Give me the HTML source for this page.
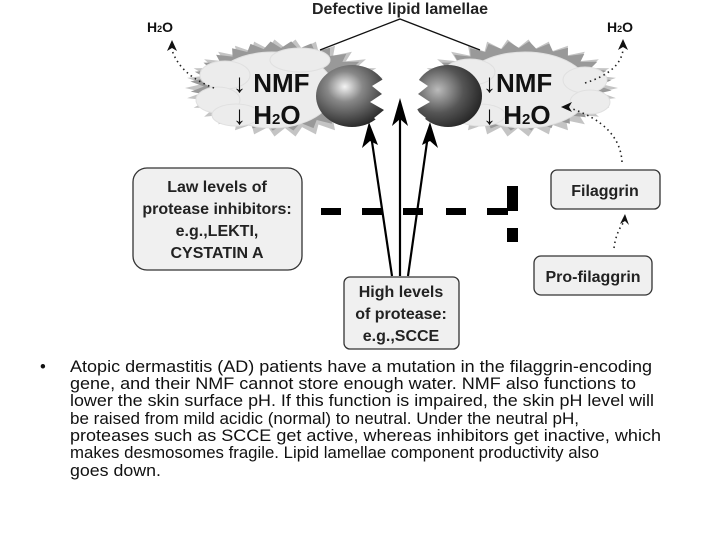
<!DOCTYPE html>
<html><head><meta charset="utf-8"><style>
body{margin:0;background:#fff;width:720px;height:540px;overflow:hidden;font-family:"Liberation Sans",Arial,sans-serif}
svg{position:absolute;left:0;top:0}
</style></head><body>
<svg id="s" width="720" height="540" viewBox="0 0 720 540" xmlns="http://www.w3.org/2000/svg">
<defs>
<radialGradient id="g1" cx="0.4" cy="0.35" r="0.7"><stop offset="0" stop-color="#f4f4f4"/><stop offset="0.35" stop-color="#888"/><stop offset="1" stop-color="#222"/></radialGradient>
<radialGradient id="g2" cx="0.35" cy="0.4" r="0.75"><stop offset="0" stop-color="#bbb"/><stop offset="0.5" stop-color="#555"/><stop offset="1" stop-color="#1a1a1a"/></radialGradient>
</defs>
<g id="spikes"></g>
<g fill="#ececec" stroke="#e0e0e0">
<ellipse cx="272" cy="90" rx="62" ry="38"/>
<ellipse cx="225" cy="75" rx="25" ry="14"/>
<ellipse cx="218" cy="100" rx="22" ry="13"/>
<ellipse cx="236" cy="115" rx="24" ry="11"/>
<ellipse cx="300" cy="60" rx="30" ry="12"/>
<ellipse cx="525" cy="90" rx="65" ry="38"/>
<ellipse cx="585" cy="80" rx="22" ry="13"/>
<ellipse cx="590" cy="102" rx="20" ry="12"/>
<ellipse cx="470" cy="72" rx="25" ry="13"/>
<ellipse cx="480" cy="115" rx="25" ry="11"/>
</g>
<ellipse cx="352" cy="96" rx="36" ry="31" fill="url(#g1)"/>
<polygon points="388,62 376,70 385,78 372,86 382,94 370,102 384,110 374,118 386,128 395,128 395,62" fill="#fff"/>
<ellipse cx="448" cy="96" rx="34" ry="31" fill="url(#g2)"/>
<polygon points="412,62 424,70 416,78 428,86 418,94 430,102 416,110 426,118 414,128 405,128 405,62" fill="#fff"/>
<text x="400" y="14" font-size="16" font-weight="bold" text-anchor="middle" fill="#222">Defective lipid lamellae</text>
<polyline points="320,50 400,19 480,50" fill="none" stroke="#111" stroke-width="1.3"/>
<g font-weight="bold" fill="#111">
<text x="233" y="92" font-size="26">↓ NMF</text>
<text x="233" y="124" font-size="26">↓ H<tspan font-size="15">2</tspan>O</text>
<text x="483" y="92" font-size="26">↓NMF</text>
<text x="483" y="124" font-size="26">↓ H<tspan font-size="15">2</tspan>O</text>
<text x="147" y="32" font-size="14">H<tspan font-size="9">2</tspan>O</text>
<text x="607" y="32" font-size="14">H<tspan font-size="9">2</tspan>O</text>
</g>
<g fill="none" stroke="#222" stroke-width="1.6" stroke-dasharray="1.5,3.5">
<path d="M214,88 Q180,75 172,50"/>
<path d="M585,83 Q620,72 623,50"/>
<path d="M622,162 Q620,125 570,108"/>
<path d="M614,248 Q616,232 624,222"/>
</g>
<g fill="#111">
<polygon points="172,40 167,51 172,48 177,51"/>
<polygon points="623,39 618,50 623,47 628,50"/>
<polygon points="561,107 572,102 569,107 572,112"/>
<polygon points="625,214 620,224 625,221 629,225"/>
</g>
<g fill="#000">
<rect x="321" y="208" width="20" height="7"/>
<rect x="362" y="208" width="20" height="7"/>
<rect x="403" y="208" width="20" height="7"/>
<rect x="446" y="208" width="20" height="7"/>
<rect x="487" y="208" width="21" height="7"/>
<rect x="507" y="186" width="11" height="25"/>
<rect x="507" y="228" width="11" height="14"/>
</g>
<g stroke="#000" stroke-width="2.2">
<line x1="392" y1="276" x2="371" y2="135"/>
<line x1="400" y1="276" x2="400" y2="115"/>
<line x1="408" y1="276" x2="428" y2="135"/>
</g>
<g fill="#000">
<polygon points="369,122 362,148 370,141 378,145"/>
<polygon points="400,98 392,126 400,119 408,126"/>
<polygon points="430,122 422,145 430,141 438,148"/>
</g>
<g fill="#f0f0f0" stroke="#333" stroke-width="1.3">
<rect x="133" y="168" width="169" height="102" rx="14"/>
<rect x="551" y="170" width="109" height="39" rx="6"/>
<rect x="534" y="256" width="118" height="39" rx="7"/>
<rect x="344" y="277" width="115" height="72" rx="6"/>
</g>
<g font-size="16" font-weight="bold" fill="#222" text-anchor="middle">
<text x="217" y="192">Law levels of</text>
<text x="217" y="214">protease inhibitors:</text>
<text x="217" y="236">e.g.,LEKTI,</text>
<text x="217" y="258">CYSTATIN A</text>
<text x="605" y="196">Filaggrin</text>
<text x="593" y="282">Pro-filaggrin</text>
<text x="401" y="297">High levels</text>
<text x="401" y="319">of protease:</text>
<text x="401" y="341">e.g.,SCCE</text>
</g>
<g font-size="16.5" fill="#111">
<text x="40" y="372">•</text>
<text x="70" y="372" textLength="582" lengthAdjust="spacingAndGlyphs">Atopic dermastitis (AD) patients have a mutation in the filaggrin-encoding</text>
<text x="70" y="389" textLength="566" lengthAdjust="spacingAndGlyphs">gene, and their NMF cannot store enough water. NMF also functions to</text>
<text x="70" y="406" textLength="584" lengthAdjust="spacingAndGlyphs">lower the skin surface pH. If this function is impaired, the skin pH level will</text>
<text x="70" y="424" textLength="509" lengthAdjust="spacingAndGlyphs">be raised from mild acidic (normal) to neutral. Under the neutral pH,</text>
<text x="70" y="441" textLength="591" lengthAdjust="spacingAndGlyphs">proteases such as SCCE get active, whereas inhibitors get inactive, which</text>
<text x="70" y="458" textLength="529" lengthAdjust="spacingAndGlyphs">makes desmosomes fragile. Lipid lamellae component productivity also</text>
<text x="70" y="476" textLength="91" lengthAdjust="spacingAndGlyphs">goes down.</text>
</g>
</svg>
<script>
(function(){
var g=document.getElementById('spikes'),ns='http://www.w3.org/2000/svg';
function spiky(cx,cy,rx,ry,n,len,col,ph){
 var p=[];
 for(var i=0;i<n*2;i++){
  var a=Math.PI*2*i/(n*2)+ph;
  var r=(i%2)?1:1+len;
  p.push((cx+Math.cos(a)*rx*r).toFixed(1)+','+(cy+Math.sin(a)*ry*r).toFixed(1));
 }
 var e=document.createElementNS(ns,'polygon');
 e.setAttribute('points',p.join(' '));e.setAttribute('fill',col);g.appendChild(e);
}
spiky(285,88,82,40,30,0.22,'#c4c4c4',0);
spiky(282,86,78,38,28,0.18,'#999',0.1);
spiky(518,88,82,40,30,0.22,'#c4c4c4',0);
spiky(520,86,78,38,28,0.18,'#999',0.1);
})();
</script>
</body></html>
